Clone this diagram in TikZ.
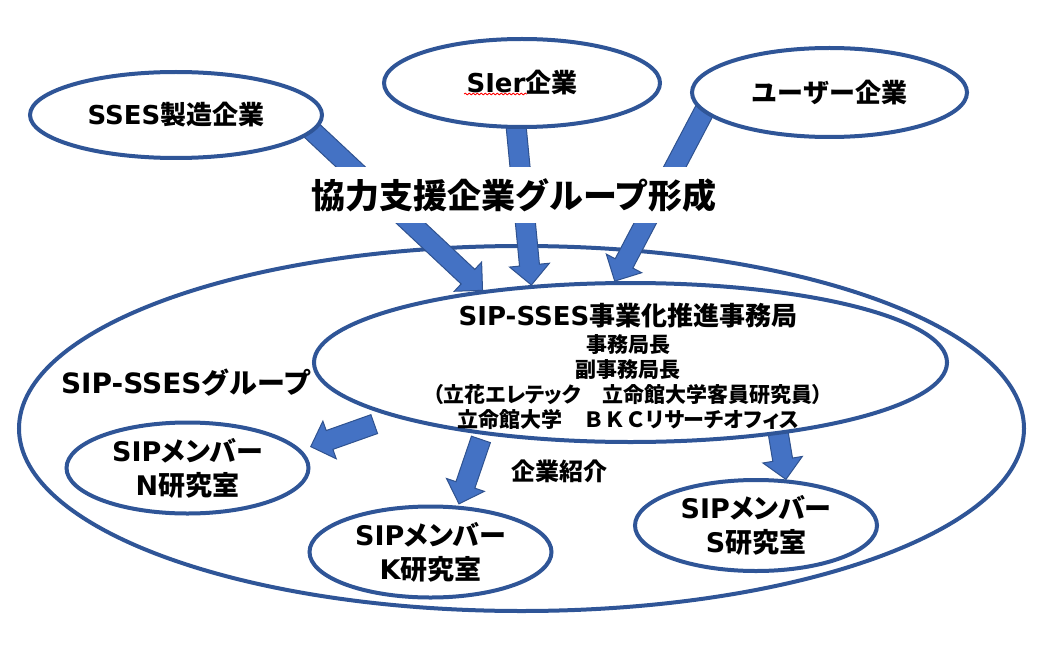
\documentclass[tikz,border=0pt]{standalone}
\usepackage{fontspec}
\setmainfont{Noto Sans CJK JP}[RawFeature=+palt]
\newfontfamily\wideFont{Noto Sans CJK JP}
\newfontfamily\latinFont{DejaVu Sans}
\newcommand{\lat}[1]{{\latinFont #1}}
\definecolor{ellipseColor}{HTML}{2F5597}
\definecolor{arrowColor}{HTML}{4472C4}
\definecolor{arrowLineColor}{HTML}{2F528F}
\usetikzlibrary{shapes, calc, decorations.pathmorphing}
\pgfdeclarelayer{back}
\pgfdeclarelayer{arrows}
\pgfsetlayers{back,arrows,main}
\tikzset{
    groupNode/.style = {ellipse, draw=ellipseColor, line width=4pt, inner sep=0pt, text centered},
    companyNode/.style = {groupNode, fill=white, font=\bfseries\wideFont\fontsize{26}{30}\selectfont},
    officeNode/.style = {groupNode, fill=white, minimum width=633pt, minimum height=159pt},
    memberNode/.style = {groupNode, fill=white, align=center, minimum width=242pt, minimum height=91pt, font=\bfseries\fontsize{27}{34}\selectfont},
    labelNode/.style = {inner sep=0pt, font=\bfseries\wideFont\fontsize{28}{32}\selectfont},
    blockPath/.style = {fill=arrowColor, draw=arrowLineColor, line width=1pt, line join=miter},
    spellPath/.style = {draw=red, line width=0.8pt, decorate, decoration={snake, amplitude=0.9pt, segment length=4pt}}
}
\newcommand{\blockArrow}[4]{%
    \coordinate(arrowTail) at ($(#1)!#3!(#2)$);
    \coordinate(arrowTip) at ($(#2)!#4!(#1)$);
    \coordinate(arrowBase) at ($(arrowTip)!20pt!(arrowTail)$);
    \path[blockPath] ($(arrowTail)!10pt!90:(arrowTip)$) -- ($(arrowBase)!10pt!90:(arrowTip)$) -- ($(arrowBase)!20pt!90:(arrowTip)$) -- (arrowTip) -- ($(arrowBase)!20pt!-90:(arrowTip)$) -- ($(arrowBase)!10pt!-90:(arrowTip)$) -- ($(arrowTail)!10pt!-90:(arrowTip)$) -- cycle;%
}
\begin{document}
\begin{tikzpicture}[x=1pt, y=-1pt]
    \useasboundingbox (0,0) rectangle (1048,647);
    \begin{pgfonlayer}{back}
        \node(sipGroup)[groupNode, minimum width=1005pt, minimum height=365pt] at (521.5,428.5){};
    \end{pgfonlayer}
    \node(groupLabel)[labelNode] at (186.5,383){\lat{SIP-SSES}グループ};
    % companies
    \node(sses)[companyNode, minimum width=292pt, minimum height=86pt] at (176,115){\lat{SSES}製造企業};
    \node(sier)[companyNode, minimum width=276pt, minimum height=88pt] at (522,83){\lat{SIer}企業};
    \node(user)[companyNode, minimum width=275pt, minimum height=89pt] at (829.5,92.5){ユーザー企業};
    \draw[spellPath] ($(sier.center)+(-58,11)$) -- ($(sier.center)+(5,11)$);
    % office and members
    \node(office)[officeNode] at (630.5,362.5){};
    \node(officeText)[align=center, inner sep=0pt, font=\bfseries\fontsize{21}{25}\selectfont] at (628,366){{\fontsize{26}{26}\selectfont\lat{SIP-SSES}事業化推進事務局}\\[2pt]事務局長\\副事務局長\\（立花エレテック　立命館大学客員研究員）\\立命館大学　{\wideFont ＢＫＣ}リサーチオフィス};
    \node(nLab)[memberNode] at (187.5,468){\lat{SIP}メンバー\\\lat{N}研究室};
    \node(kLab)[memberNode] at (430.5,552){\lat{SIP}メンバー\\\lat{K}研究室};
    \node(sLab)[memberNode] at (756,525.5){\lat{SIP}メンバー\\\lat{S}研究室};
    \node(introLabel)[labelNode, font=\bfseries\fontsize{24}{28}\selectfont] at (559.5,471){企業紹介};
    \begin{pgfonlayer}{arrows}
        \blockArrow{sses.-7}{office.154}{-4pt}{0pt}
        \blockArrow{sier.-97}{office.142}{-4pt}{0pt}
        \blockArrow{user.-171}{office.101}{-4pt}{0pt}
        \blockArrow{office.-167}{nLab.9}{21pt}{10pt}
        \blockArrow{office.-154}{kLab.59}{5pt}{2pt}
        \blockArrow{office.-26}{sLab.57}{-4pt}{0pt}
    \end{pgfonlayer}
    \node(collabTitle)[labelNode, fill=white, inner xsep=6pt, minimum height=55pt, font=\bfseries\wideFont\fontsize{34}{38}\selectfont] at (514,195){協力支援企業グループ形成};
\end{tikzpicture}
\end{document}
